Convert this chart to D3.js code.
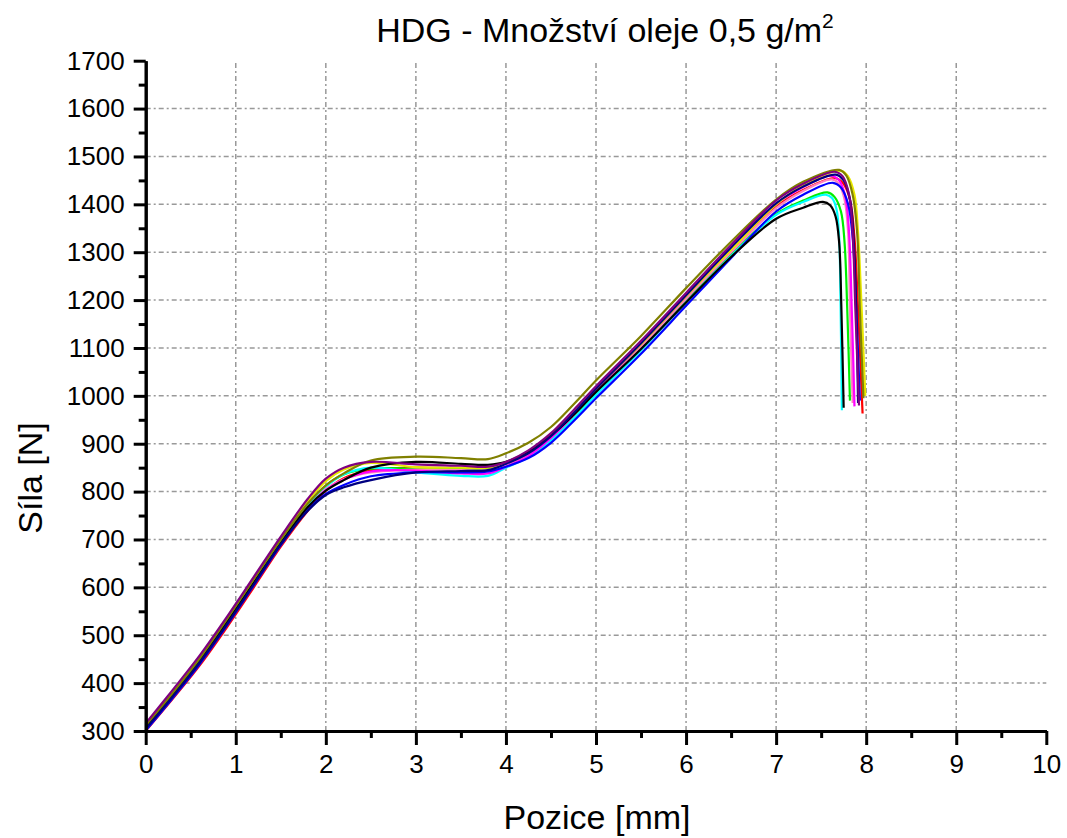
<!DOCTYPE html>
<html>
<head>
<meta charset="utf-8">
<script src="https://cdn.jsdelivr.net/npm/d3@7"></script>
<style>
  html, body { margin: 0; padding: 0; background: #fff; }
  svg { display: block; font-family: "Liberation Sans", Arial, sans-serif; }
</style>
</head>
<body>
<svg id="chart" width="1067" height="838"></svg>
<script>
// ---------- DATA ----------
const titleText = "HDG - Množství oleje 0,5 g/m";
const xLabel = "Pozice [mm]";
const yLabel = "Síla [N]";
const xTicks = [0,1,2,3,4,5,6,7,8,9,10];
const yTicks = [300,400,500,600,700,800,900,1000,1100,1200,1300,1400,1500,1600,1700];

// common positions [mm] for the rising part of every curve
const xBody = [0,0.3,0.6,0.9,1.2,1.5,1.8,2.0,2.2,2.5,3.0,3.5,3.8,4.0,4.25,4.5,4.75,5.0,5.5,6.0,6.5,7.0,7.3];

// forces [N] at xBody, and peak/drop tail [x, y] per specimen
const redBody     = [300,367,437,516,600,685,760,802,828,845,850,848,848,858,880,914,960,1010,1102,1202,1300,1395,1430];
const redTail     = [[7.65,1455],[7.74,1445],[7.82,1410],[7.87,1330],[7.91,1180],[7.96,963]];
const greenBody   = [308,376,448,528,612,695,772,812,836,848,848,847,847,858,880,913,958,1008,1100,1200,1295,1380,1408];
const greenTail   = [[7.57,1425],[7.65,1415],[7.72,1385],[7.76,1320],[7.79,1180],[7.82,990]];
const cyanBody    = [303,372,444,524,608,692,770,810,836,850,840,833,833,850,872,907,952,1002,1095,1195,1292,1378,1405];
const cyanTail    = [[7.55,1420],[7.62,1413],[7.67,1390],[7.70,1330],[7.715,1200],[7.73,970]];
const pinkBody    = [304,372,443,523,607,690,765,805,826,840,846,845,845,855,877,913,960,1010,1103,1203,1300,1392,1428];
const pinkTail    = [[7.62,1452],[7.70,1442],[7.76,1410],[7.80,1340],[7.82,1180],[7.85,985]];
const magentaBody = [303,371,442,522,606,690,765,803,825,842,844,838,838,852,874,912,960,1012,1108,1208,1308,1400,1436];
const magentaTail = [[7.60,1460],[7.70,1450],[7.77,1415],[7.81,1340],[7.84,1180],[7.87,978]];
const yellowBody  = [310,378,450,530,615,700,780,822,846,860,851,850,850,860,882,917,964,1015,1108,1208,1305,1400,1440];
const yellowTail  = [[7.72,1470],[7.80,1458],[7.87,1420],[7.91,1340],[7.95,1180],[7.99,1000]];
const blueBody    = [301,369,440,520,604,688,762,795,814,832,840,840,842,852,870,902,947,995,1088,1188,1288,1385,1420];
const blueTail    = [[7.63,1445],[7.72,1435],[7.80,1400],[7.85,1330],[7.89,1180],[7.93,990]];
const blackBody   = [307,375,447,527,610,693,768,802,824,850,862,858,856,862,884,917,960,1008,1098,1195,1290,1370,1393];
const blackTail   = [[7.52,1405],[7.60,1398],[7.66,1375],[7.70,1320],[7.725,1180],[7.75,975]];
const navyBody    = [304,372,443,522,606,690,760,793,809,824,840,843,845,858,880,916,964,1015,1110,1210,1310,1402,1437];
const navyTail    = [[7.66,1462],[7.75,1450],[7.82,1410],[7.86,1330],[7.89,1180],[7.91,985]];
const oliveBody   = [312,380,452,533,617,700,775,813,838,865,873,870,868,880,902,935,982,1032,1125,1225,1322,1410,1447];
const oliveTail   = [[7.70,1472],[7.78,1460],[7.85,1420],[7.90,1340],[7.93,1180],[7.97,995]];
const purpleBody  = [316,386,458,538,622,706,785,827,850,862,857,854,852,862,886,922,970,1020,1115,1215,1315,1408,1443];
const purpleTail  = [[7.65,1468],[7.74,1458],[7.81,1420],[7.85,1340],[7.88,1180],[7.92,980]];

// ---------- STYLE ----------
const seriesList = [
  {body: redBody,     tail: redTail,     color: "#ff0000"},
  {body: greenBody,   tail: greenTail,   color: "#00ee00"},
  {body: cyanBody,    tail: cyanTail,    color: "#00ffff"},
  {body: pinkBody,    tail: pinkTail,    color: "#ff80c0"},
  {body: magentaBody, tail: magentaTail, color: "#ff00ff"},
  {body: yellowBody,  tail: yellowTail,  color: "#e8e800"},
  {body: blueBody,    tail: blueTail,    color: "#0000ff"},
  {body: blackBody,   tail: blackTail,   color: "#000000"},
  {body: navyBody,    tail: navyTail,    color: "#000080"},
  {body: oliveBody,   tail: oliveTail,   color: "#808000"},
  {body: purpleBody,  tail: purpleTail,  color: "#800080"}
];

const svg = d3.select("#chart");
const x = d3.scaleLinear().domain([0,10]).range([145.7,1046.3]);
const y = d3.scaleLinear().domain([300,1700]).range([731,60.7]);

// grid
const grid = svg.append("g").attr("stroke","#999").attr("stroke-width",1.5)
  .attr("stroke-dasharray","5,3,2,3").attr("fill","none");
grid.selectAll("line.h").data(yTicks.filter(v => v > 300 && v < 1700)).enter().append("line")
  .attr("x1", x(0)).attr("x2", x(10)).attr("y1", d => y(d)).attr("y2", d => y(d));
grid.selectAll("line.v").data(xTicks.filter(v => v > 0 && v < 10)).enter().append("line")
  .attr("y1", y(300)).attr("y2", y(1700)).attr("x1", d => x(d)).attr("x2", d => x(d));

// curves
svg.append("clipPath").attr("id","clip").append("rect")
  .attr("x", x(0)).attr("y", y(1700)).attr("width", x(10)-x(0)).attr("height", y(300)-y(1700));
const line = d3.line().x(d => x(d[0])).y(d => y(d[1])).curve(d3.curveCatmullRom.alpha(0.5));
const curves = svg.append("g").attr("clip-path","url(#clip)");
seriesList.forEach(s => {
  const pts = xBody.map((xv, i) => [xv, s.body[i]]).concat(s.tail);
  curves.append("path").datum(pts).attr("d", line)
    .attr("fill","none").attr("stroke", s.color).attr("stroke-width",2.2)
    .attr("stroke-linejoin","round");
});

// axes
function styleAxis(g){
  g.selectAll("path.domain").attr("stroke","#000").attr("stroke-width",3);
  g.selectAll(".tick line").attr("stroke","#000").attr("stroke-width",3);
  g.selectAll(".tick text").attr("fill","#000").style("font-size","26px")
    .style("font-family","'Liberation Sans', Arial, sans-serif");
}
const xMinor = svg.append("g").attr("transform",`translate(0,${y(300)})`)
  .call(d3.axisBottom(x).tickValues(d3.range(0.5,10,1)).tickSize(7).tickFormat("").tickSizeOuter(0));
styleAxis(xMinor);
const yMinor = svg.append("g").attr("transform",`translate(${x(0)},0)`)
  .call(d3.axisLeft(y).tickValues(d3.range(350,1700,100)).tickSize(7).tickFormat("").tickSizeOuter(0));
styleAxis(yMinor);
const xAxis = svg.append("g").attr("transform",`translate(0,${y(300)})`)
  .call(d3.axisBottom(x).tickValues(xTicks).tickSize(14).tickPadding(10).tickSizeOuter(0).tickFormat(d3.format("d")));
styleAxis(xAxis);
const yAxis = svg.append("g").attr("transform",`translate(${x(0)},0)`)
  .call(d3.axisLeft(y).tickValues(yTicks).tickSize(12).tickPadding(9).tickSizeOuter(0).tickFormat(d3.format("d")));
styleAxis(yAxis);

// title
const t = svg.append("text").attr("x", 605).attr("y", 42).attr("text-anchor","middle")
  .style("font-size","34px").attr("fill","#000");
t.append("tspan").text(titleText);
t.append("tspan").attr("dy",-14).style("font-size","21px").text("2");

// axis labels
svg.append("text").attr("x", 597).attr("y", 829).attr("text-anchor","middle")
  .style("font-size","34px").attr("fill","#000").text(xLabel);
svg.append("text").attr("transform","translate(42,478) rotate(-90)").attr("text-anchor","middle")
  .style("font-size","34px").attr("fill","#000").text(yLabel);
</script>
</body>
</html>
